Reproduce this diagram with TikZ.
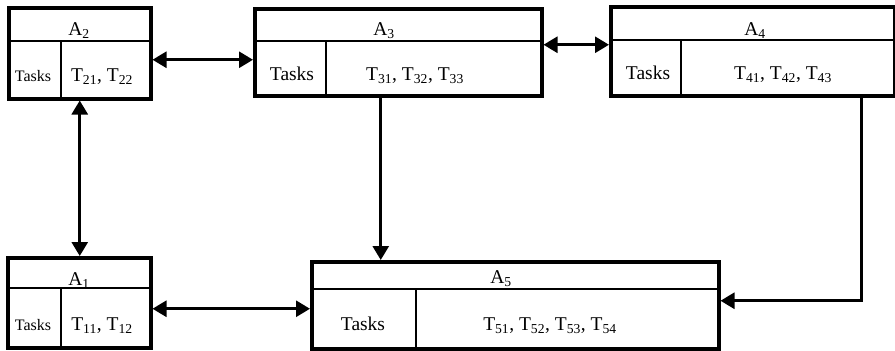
\documentclass[tikz,border=0pt]{standalone}
\usepackage{fontspec}
\setmainfont{Liberation Serif}
\usetikzlibrary{arrows.meta}
\begin{document}
\begin{tikzpicture}[x=1pt,y=-1pt,
  box/.style={draw,line width=3.5pt,anchor=north west,inner sep=0pt},
  inner/.style={line width=2pt},
  lbl/.style={anchor=base,inner sep=0pt,font=\fontsize{19.5}{21}\selectfont},
  small/.style={anchor=base,inner sep=0pt,font=\fontsize{16}{18}\selectfont},
  arr/.style={line width=2.8pt,-{Triangle[length=14pt,width=16pt]}},
  barr/.style={line width=2.8pt,{Triangle[length=14pt,width=16pt]}-{Triangle[length=14pt,width=16pt]}}]
\useasboundingbox (0,0) rectangle (895,351);
% boxes
\node[box,minimum width=142pt,minimum height=91pt] (A2) at (7,6) {};
\node[box,minimum width=287pt,minimum height=87pt] (A3) at (253,7) {};
\node[box,minimum width=284pt,minimum height=89pt] (A4) at (609,5) {};
\node[box,minimum width=143pt,minimum height=90pt] (A1) at (6,256) {};
\node[box,minimum width=407pt,minimum height=87pt] (A5) at (310,260) {};
% dividers
\draw[inner] ([yshift=-35pt]A2.north west) -- ([yshift=-35pt]A2.north east);
\draw[inner] ([xshift=54pt,yshift=-35pt]A2.north west) -- ([xshift=54pt]A2.south west);
\draw[inner] ([yshift=-34pt]A3.north west) -- ([yshift=-34pt]A3.north east);
\draw[inner] ([xshift=73pt,yshift=-34pt]A3.north west) -- ([xshift=73pt]A3.south west);
\draw[inner] ([yshift=-35pt]A4.north west) -- ([yshift=-35pt]A4.north east);
\draw[inner] ([xshift=72pt,yshift=-35pt]A4.north west) -- ([xshift=72pt]A4.south west);
\draw[inner] ([yshift=-32pt]A1.north west) -- ([yshift=-32pt]A1.north east);
\draw[inner] ([xshift=55pt,yshift=-32pt]A1.north west) -- ([xshift=55pt]A1.south west);
\draw[inner] ([yshift=-29pt]A5.north west) -- ([yshift=-29pt]A5.north east);
\draw[inner] ([xshift=106pt,yshift=-29pt]A5.north west) -- ([xshift=106pt]A5.south west);
% texts
\node[lbl] (t2) at (79,35) {A\textsubscript{2}};
\node[small] (k2) at (33,81) {Tasks};
\node[lbl] (s2) at (102,81) {T\textsubscript{21}, T\textsubscript{22}};
\node[lbl] (t3) at (384,35) {A\textsubscript{3}};
\node[lbl] (k3) at (292,80) {Tasks};
\node[lbl] (s3) at (415,80) {T\textsubscript{31}, T\textsubscript{32}, T\textsubscript{33}};
\node[lbl] (t4) at (755,35) {A\textsubscript{4}};
\node[lbl] (k4) at (648,79) {Tasks};
\node[lbl] (s4) at (783,79) {T\textsubscript{41}, T\textsubscript{42}, T\textsubscript{43}};
\node[lbl] (t1) at (79,285) {A\textsubscript{1}};
\node[small] (k1) at (33,330) {Tasks};
\node[lbl] (s1) at (102,330) {T\textsubscript{11}, T\textsubscript{12}};
\node[lbl] (t5) at (501,283) {A\textsubscript{5}};
\node[lbl] (k5) at (363,330) {Tasks};
\node[lbl] (s5) at (550,330) {T\textsubscript{51}, T\textsubscript{52}, T\textsubscript{53}, T\textsubscript{54}};
% connectors
\coordinate (p1) at ([yshift=-6.5pt]A2.east);
\draw[barr] (p1) -- (p1 -| A3.west);
\coordinate (p2) at ([yshift=7.5pt]A3.east);
\draw[barr] (p2) -- (p2 -| A4.west);
\draw[barr] (A2.south) -- (A2.south |- A1.north);
\coordinate (p4) at ([yshift=-6pt]A1.east);
\draw[barr] (p4) -- (p4 -| A5.west);
\coordinate (p5) at ([xshift=-17.5pt]A3.south);
\draw[arr] (p5) -- (p5 |- A5.north);
\coordinate (p6) at ([xshift=109pt]A4.south);
\coordinate (p7) at ([yshift=4.5pt]A5.east);
\draw[arr] (p6) |- (p7);
\end{tikzpicture}
\end{document}
